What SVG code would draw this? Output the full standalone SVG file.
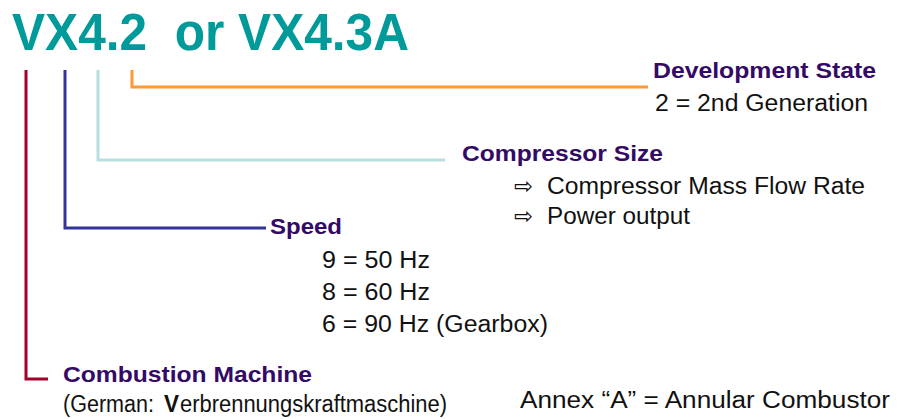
<svg xmlns="http://www.w3.org/2000/svg" width="898" height="419" viewBox="0 0 898 419">
<style>
text{font-family:"Liberation Sans",Arial,"DejaVu Sans",sans-serif}
.t{font-size:51px;font-weight:bold;fill:#009a9a;white-space:pre}
.h{font-size:22px;font-weight:bold;fill:#330a66}
.b{font-size:23px;fill:#111}
.ar{font-family:"DejaVu Sans",sans-serif;font-size:23px;fill:#111}
.ln{fill:none;stroke-width:3}
</style>
<rect width="898" height="419" fill="#fff"/>
<g id="title"><text class="t" x="12" y="50" xml:space="preserve" textLength="397" lengthAdjust="spacingAndGlyphs">VX4.2  or VX4.3A</text></g>
<g id="connectors">
<polyline class="ln" stroke="#a3002c" points="26,70 26,379 48,379"/>
<polyline class="ln" stroke="#333399" points="65,70 65,228 266,228"/>
<polyline class="ln" stroke="#b7dfe2" points="98,70 98,160 445,160"/>
<polyline class="ln" stroke="#ff9933" points="132,70 132,87 648,87"/>
</g>
<g id="development">
<text class="h" x="653" y="78" textLength="223" lengthAdjust="spacingAndGlyphs">Development State</text>
<text class="b" x="655" y="111" textLength="213" lengthAdjust="spacingAndGlyphs">2 = 2nd Generation</text>
</g>
<g id="compressor">
<text class="h" x="462" y="161" textLength="201" lengthAdjust="spacingAndGlyphs">Compressor Size</text>
<text class="ar" x="514" y="194">⇨</text>
<text class="b" x="547" y="194" textLength="318" lengthAdjust="spacingAndGlyphs">Compressor Mass Flow Rate</text>
<text class="ar" x="514" y="224">⇨</text>
<text class="b" x="547" y="224" textLength="143" lengthAdjust="spacingAndGlyphs">Power output</text>
</g>
<g id="speed">
<text class="h" x="270" y="234" textLength="72" lengthAdjust="spacingAndGlyphs">Speed</text>
<text class="b" x="322" y="268" textLength="108" lengthAdjust="spacingAndGlyphs">9 = 50 Hz</text>
<text class="b" x="322" y="300" textLength="108" lengthAdjust="spacingAndGlyphs">8 = 60 Hz</text>
<text class="b" x="322" y="332" textLength="226" lengthAdjust="spacingAndGlyphs">6 = 90 Hz (Gearbox)</text>
</g>
<g id="combustion">
<text class="h" x="63" y="382" textLength="249" lengthAdjust="spacingAndGlyphs">Combustion Machine</text>
<text class="b" x="63" y="412" textLength="91" lengthAdjust="spacingAndGlyphs">(German:</text>
<text class="b" x="164" y="412" font-weight="bold" fill="#000" textLength="15" lengthAdjust="spacingAndGlyphs">V</text>
<text class="b" x="180" y="412" textLength="267" lengthAdjust="spacingAndGlyphs">erbrennungskraftmaschine)</text>
</g>
<g id="annex">
<text class="b" x="520" y="408" textLength="370" lengthAdjust="spacingAndGlyphs">Annex “A” = Annular Combustor</text>
</g>
</svg>
